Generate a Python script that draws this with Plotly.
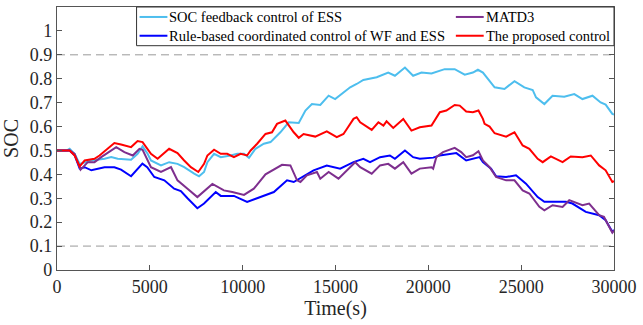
import plotly.graph_objects as go

# ---- data -------------------------------------------------------------
series_names = [
    "SOC feedback control of ESS",
    "Rule-based coordinated control of WF and ESS",
    "MATD3",
    "The proposed control",
]

t_feedback = [0, 540, 680, 950, 1220, 1850, 2560, 2920, 3270, 3990, 4340,
              4610, 4880, 5060, 5600, 6040, 6490, 6850, 7390, 7650, 7920,
              8100, 8460, 8820, 9350, 9710, 10070, 10340, 10690, 11140, 11500,
              12030, 12480, 13020, 13380, 13730, 14180, 14630, 14980, 15340, 15790,
              16140, 16500, 17220, 17840, 18200, 18740, 19180, 19630, 20170, 20880,
              21420, 21960, 22400, 22670, 22940, 23200, 23570, 24100, 24640, 25170,
              25620, 25800, 26250, 26690, 27320, 27860, 28300, 28840, 29280, 29550,
              29910, 30000]
soc_feedback = [0.50, 0.50, 0.507, 0.486, 0.444, 0.458, 0.465, 0.472, 0.465, 0.461, 0.486,
                0.517, 0.486, 0.458, 0.4375, 0.451, 0.444, 0.43, 0.403, 0.392, 0.41,
                0.451, 0.486, 0.472, 0.479, 0.486, 0.486, 0.469, 0.507, 0.528, 0.535,
                0.576, 0.618, 0.615, 0.667, 0.694, 0.69, 0.729, 0.715, 0.736, 0.764,
                0.778, 0.795, 0.806, 0.826, 0.8125, 0.847, 0.8125, 0.826, 0.822, 0.84,
                0.84, 0.817, 0.826, 0.8375, 0.826, 0.799, 0.764, 0.757, 0.79, 0.764,
                0.753, 0.722, 0.694, 0.729, 0.725, 0.736, 0.715, 0.729, 0.701, 0.692,
                0.653, 0.65]

t_rule = [0, 680, 950, 1220, 1490, 1850, 2560, 3090, 3450, 3990,
          4600, 4860, 5240, 5780, 6310, 6670, 7030, 7560, 7920, 8550,
          8820, 9530, 10240, 10960, 11680, 12390, 12750, 13820, 14530, 15250,
          15970, 16500, 16860, 17400, 17930, 18200, 18740, 19180, 19540, 20260,
          20610, 21510, 22040, 22760, 22940, 23380, 23650, 24190, 24720, 25260,
          25890, 26250, 26690, 27410, 27760, 28480, 29200, 29550, 29910, 30000]
soc_rule = [0.50, 0.50, 0.48, 0.424, 0.43, 0.417, 0.43, 0.43, 0.42, 0.392,
            0.445, 0.43, 0.389, 0.375, 0.34, 0.33, 0.30, 0.258, 0.278, 0.326,
            0.31, 0.31, 0.285, 0.305, 0.326, 0.375, 0.368, 0.417, 0.437, 0.424,
            0.451, 0.465, 0.451, 0.472, 0.479, 0.465, 0.50, 0.472, 0.465, 0.47,
            0.479, 0.489, 0.458, 0.472, 0.451, 0.424, 0.392, 0.389, 0.396, 0.361,
            0.305, 0.285, 0.285, 0.285, 0.278, 0.243, 0.229, 0.208, 0.16, 0.167]

t_matd3 = [0, 680, 950, 1270, 1660, 2020, 2380, 2920, 3190, 3630,
           4080, 4440, 4610, 5060, 5600, 6140, 6490, 7030, 7560, 8370,
           8990, 9440, 10070, 10600, 11230, 12120, 12570, 12930, 13110, 13460,
           14000, 14180, 14630, 15160, 15610, 16060, 16330, 16950, 17400, 17840,
           18200, 18650, 19090, 19540, 20170, 20260, 20430, 20790, 21420, 21770,
           22040, 22400, 22700, 22940, 23300, 23650, 24190, 24640, 25080, 25440,
           25980, 26250, 26690, 27230, 27590, 28300, 28660, 29200, 29460, 29910,
           30000]
soc_matd3 = [0.50, 0.50, 0.486, 0.42, 0.451, 0.451, 0.472, 0.50, 0.514, 0.493,
             0.479, 0.507, 0.503, 0.43, 0.41, 0.43, 0.375, 0.34, 0.305, 0.36,
             0.333, 0.326, 0.314, 0.34, 0.40, 0.44, 0.4375, 0.375, 0.368, 0.396,
             0.41, 0.382, 0.41, 0.382, 0.417, 0.451, 0.43, 0.403, 0.4375, 0.444,
             0.424, 0.451, 0.403, 0.424, 0.43, 0.424, 0.472, 0.493, 0.511, 0.493,
             0.472, 0.48, 0.497, 0.458, 0.43, 0.389, 0.375, 0.375, 0.333, 0.32,
             0.264, 0.25, 0.271, 0.264, 0.292, 0.271, 0.278, 0.229, 0.222, 0.156,
             0.165]

t_proposed = [0, 680, 950, 1220, 1490, 2020, 2290, 2740, 3090, 3450,
              3990, 4340, 4610, 5060, 5420, 6040, 6490, 6850, 7210, 7610,
              7920, 8100, 8460, 8820, 9170, 9530, 9890, 10240, 10430, 10780,
              11230, 11580, 11850, 12300, 12750, 13020, 13280, 13910, 14530, 15070,
              15430, 15610, 15970, 16140, 16330, 16950, 17310, 17580, 17750, 18110,
              18650, 19090, 19540, 20170, 20620, 20970, 21420, 21690, 22040, 22400,
              22700, 22940, 23030, 23300, 23570, 24190, 24640, 25080, 25440, 25890,
              26160, 26600, 27230, 27670, 28300, 28750, 29200, 29550, 29910, 30000]
soc_proposed = [0.50, 0.50, 0.479, 0.433, 0.458, 0.465, 0.479, 0.507, 0.531, 0.525,
                0.514, 0.539, 0.535, 0.486, 0.465, 0.507, 0.489, 0.458, 0.43, 0.41,
                0.444, 0.479, 0.503, 0.486, 0.486, 0.472, 0.486, 0.479, 0.50, 0.528,
                0.569, 0.576, 0.611, 0.625, 0.576, 0.553, 0.569, 0.558, 0.58, 0.556,
                0.569, 0.59, 0.632, 0.639, 0.618, 0.586, 0.618, 0.604, 0.622, 0.594,
                0.632, 0.583, 0.597, 0.604, 0.66, 0.667, 0.69, 0.6875, 0.6625, 0.66,
                0.667, 0.632, 0.611, 0.60, 0.572, 0.558, 0.576, 0.521, 0.507, 0.465,
                0.451, 0.475, 0.451, 0.475, 0.472, 0.479, 0.4375, 0.417, 0.368, 0.372]

soc_limits = [0.1, 0.9]
x_ticks = [0, 5000, 10000, 15000, 20000, 25000, 30000]
x_tick_labels = ["0", "5000", "10000", "15000", "20000", "25000", "30000"]
y_ticks = [0, 0.1, 0.2, 0.3, 0.4, 0.5, 0.6, 0.7, 0.8, 0.9, 1]
y_tick_labels = ["0", "0.1", "0.2", "0.3", "0.4", "0.5", "0.6", "0.7", "0.8", "0.9", "1"]

# ---- styling ----------------------------------------------------------
W, H = 643, 325
ML, MR, MT, MB = 57, 26, 6, 55
FONT = "Liberation Serif, Times New Roman, serif"
TXT = "#262626"
colors = {
    series_names[0]: "#4DBEEE",
    series_names[1]: "#0000FF",
    series_names[2]: "#7E2F8E",
    series_names[3]: "#FF0000",
}

fig = go.Figure()

# SOC limit reference lines
for lim in soc_limits:
    fig.add_trace(go.Scatter(
        x=[x_ticks[0], x_ticks[-1]], y=[lim, lim], mode="lines",
        line=dict(color="#9a9a9a", width=1, dash="8px,5px"),
        showlegend=False, hoverinfo="skip"))

# drawing order: feedback, rule-based, MATD3, proposed (on top)
curves = [
    (series_names[0], t_feedback, soc_feedback),
    (series_names[1], t_rule, soc_rule),
    (series_names[2], t_matd3, soc_matd3),
    (series_names[3], t_proposed, soc_proposed),
]
for name, t, s in curves:
    fig.add_trace(go.Scatter(
        x=t, y=s, mode="lines", name=name,
        line=dict(color=colors[name], width=2),
        showlegend=False))

# ---- legend box (two columns, two rows) --------------------------------
pw, ph = W - ML - MR, H - MT - MB


def px_x(px):
    return (px - ML) / pw


def px_y(py):
    return (H - MB - py) / ph


LEG_FONT = 14.5
ROW1, ROW2 = 16, 16 + 1.3 * LEG_FONT
shapes = [dict(type="rect", xref="paper", yref="paper",
               x0=px_x(137), x1=px_x(617), y0=px_y(ROW2 + 10), y1=px_y(6),
               fillcolor="white", line=dict(color="#333333", width=1),
               layer="above")]
annotations = []
legend_columns = [
    (140, [series_names[0], series_names[1]]),
    (458, [series_names[2], series_names[3]]),
]
for lx, names in legend_columns:
    for name, ly in zip(names, (ROW1, ROW2)):
        shapes.append(dict(type="line", xref="paper", yref="paper",
                           x0=px_x(lx), x1=px_x(lx + 28), y0=px_y(ly), y1=px_y(ly),
                           line=dict(color=colors[name], width=2), layer="above"))
    annotations.append(dict(xref="paper", yref="paper", x=px_x(lx + 29),
                            y=px_y((ROW1 + ROW2) / 2),
                            text="<br>".join(names), showarrow=False, align="left",
                            xanchor="left", yanchor="middle", borderpad=0,
                            font=dict(family=FONT, size=LEG_FONT, color="#000000")))

axis_common = dict(
    showline=True, linecolor="#555555", linewidth=1.2, mirror="ticks",
    ticks="inside", ticklen=5, tickcolor="#555555", tickwidth=1,
    showgrid=False, zeroline=False,
    tickfont=dict(family=FONT, size=18, color=TXT),
)

fig.update_layout(
    width=W, height=H,
    margin=dict(l=ML, r=MR, t=MT, b=MB),
    paper_bgcolor="white", plot_bgcolor="white",
    font=dict(family=FONT, color=TXT),
    showlegend=False,
    shapes=shapes, annotations=annotations,
    xaxis=dict(range=[0, 30000], tickvals=x_ticks, ticktext=x_tick_labels,
               title=dict(text="Time(s)", font=dict(family=FONT, size=20, color=TXT), standoff=0),
               **axis_common),
    yaxis=dict(range=[0, 1.1], tickvals=y_ticks, ticktext=y_tick_labels,
               title=dict(text="SOC", font=dict(family=FONT, size=20, color=TXT), standoff=8),
               **axis_common),
)

fig.write_html("out.html")
